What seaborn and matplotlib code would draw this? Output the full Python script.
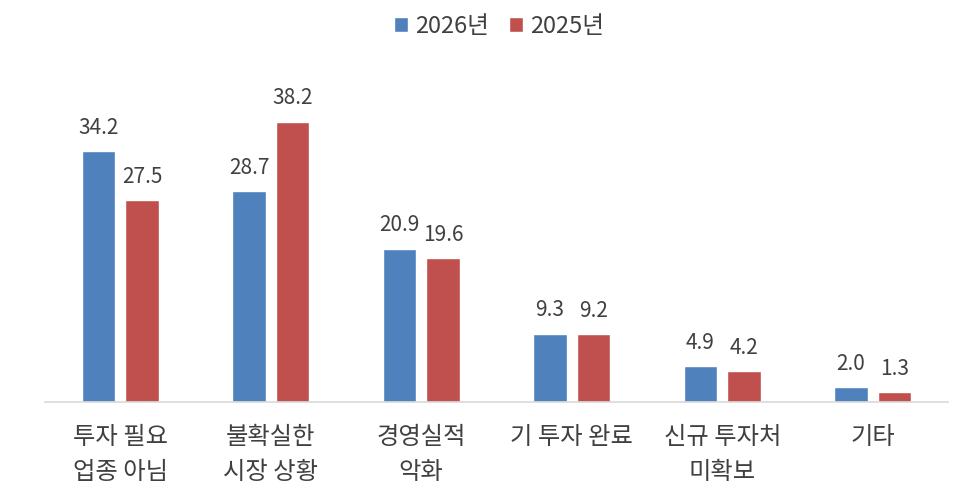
import matplotlib
matplotlib.use("Agg")
import matplotlib.pyplot as plt
import seaborn as sns
import pandas as pd

categories = ["투자 필요\n업종 아님", "불확실한\n시장 상황", "경영실적\n악화", "기 투자 완료", "신규 투자처\n미확보", "기타"]
series_names = ["2026년", "2025년"]
values_2026 = [34.2, 28.7, 20.9, 9.3, 4.9, 2.0]
values_2025 = [27.5, 38.2, 19.6, 9.2, 4.2, 1.3]
colors = ["#4F81BD", "#C0504D"]

sns.set_theme(style="white")
plt.rcParams['font.family'] = ['Noto Sans CJK KR', 'DejaVu Sans']

df = pd.DataFrame({
    "cat": categories * 2,
    "year": [series_names[0]] * len(categories) + [series_names[1]] * len(categories),
    "val": values_2026 + values_2025,
})

fig = plt.figure(figsize=(9.74, 4.94), dpi=100)
ax = fig.add_axes([45/974, (494-402)/494, 903/974, 342/494])
sns.barplot(data=df, x="cat", y="val", hue="year", palette=colors, width=0.578, gap=0.22,
            ax=ax, order=categories, hue_order=series_names, saturation=1, legend=True)

for cont in ax.containers:
    ax.bar_label(cont, fmt="%.1f", padding=9, fontsize=15, color="#404040")

ax.set_ylim(0, 46.6)
ax.set_xlim(-0.5, len(categories) - 0.5)
ax.set_xlabel("")
ax.set_ylabel("")
ax.set_yticks([])
for s in ["top", "left", "right"]:
    ax.spines[s].set_visible(False)
ax.spines["bottom"].set_color("#D9D9D9")
ax.spines["bottom"].set_linewidth(1.2)
ax.tick_params(axis="x", length=0, pad=16, labelsize=17.5, colors="#404040")
for t in ax.get_xticklabels():
    t.set_linespacing(1.45)
    t.set_verticalalignment("top")

leg = ax.legend(loc="center", bbox_to_anchor=(0.5 + 12/974, (494-26)/494), bbox_transform=fig.transFigure,
                ncol=2, frameon=False, fontsize=17, handlelength=0.6, handleheight=0.6,
                handletextpad=0.3, columnspacing=0.85)
for t in leg.get_texts():
    t.set_color("#404040")

fig.savefig("out.png", dpi=100)
